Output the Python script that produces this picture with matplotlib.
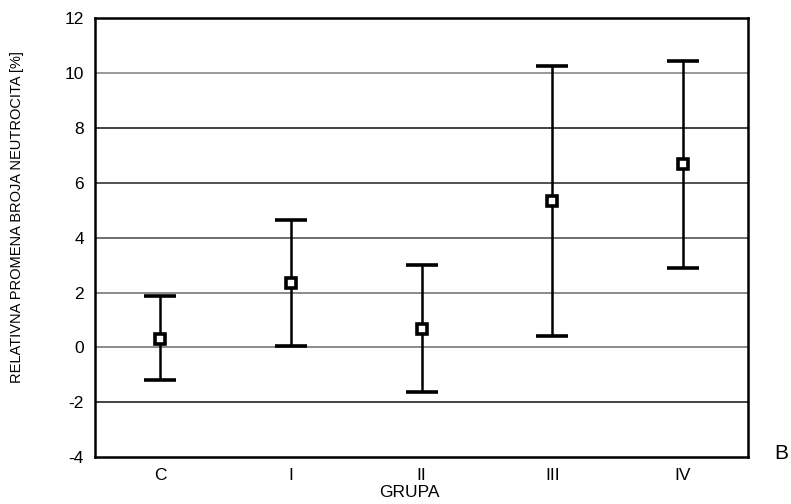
import matplotlib
matplotlib.use('Agg')
import matplotlib.pyplot as plt
import numpy as np

groups = ['C', 'I', 'II', 'III', 'IV']
means = [0.30, 2.35, 0.67, 5.33, 6.67]
upper = [1.87, 4.65, 2.99, 10.25, 10.43]
lower = [-1.19, 0.05, -1.64, 0.42, 2.90]
y_ticks = [-4, -2, 0, 2, 4, 6, 8, 10, 12]

plt.rcParams['font.family'] = ['Liberation Sans', 'DejaVu Sans']
plt.rcParams['axes.unicode_minus'] = False

fig = plt.figure(figsize=(7.91, 5.04), dpi=100)
ax = fig.add_axes([0.120, 0.093, 0.826, 0.871])

x = np.arange(len(groups))
means = np.array(means)
yerr = [means - np.array(lower), np.array(upper) - means]

# grid lines (scan shows a mix of grey and black)
grid_colors = ['#222222', '#777777', '#777777', '#555555', '#333333', '#222222', '#888888']
for val, c in zip(y_ticks[1:-1], grid_colors):
    ax.axhline(val, color=c, lw=1.2, zorder=1)

ax.errorbar(x, means, yerr=yerr, fmt='s', color='black', ecolor='black',
            elinewidth=1.8, capsize=11.5, capthick=1.8,
            markersize=7.5, markerfacecolor='white', markeredgecolor='black',
            markeredgewidth=2.6, zorder=3)

ax.set_xlim(-0.5, len(groups) - 0.5)
ax.set_ylim(-4, 12)
ax.set_yticks(y_ticks)
ax.set_xticks(x)
ax.set_xticklabels(groups)
ax.tick_params(length=0, labelsize=12.5, pad=8)
for s in ax.spines.values():
    s.set_linewidth(1.8)

fig.text(0.518, 0.022, 'GRUPA', ha='center', va='center', fontsize=12.5)
fig.text(0.022, 0.57, 'RELATIVNA PROMENA BROJA NEUTROCITA [%]', rotation=90,
         ha='center', va='center', fontsize=10.5,
         family=['Liberation Sans Narrow', 'Liberation Sans', 'DejaVu Sans'])
fig.text(0.988, 0.101, 'B', ha='center', va='center', fontsize=15)

fig.savefig('out.png', dpi=100)
